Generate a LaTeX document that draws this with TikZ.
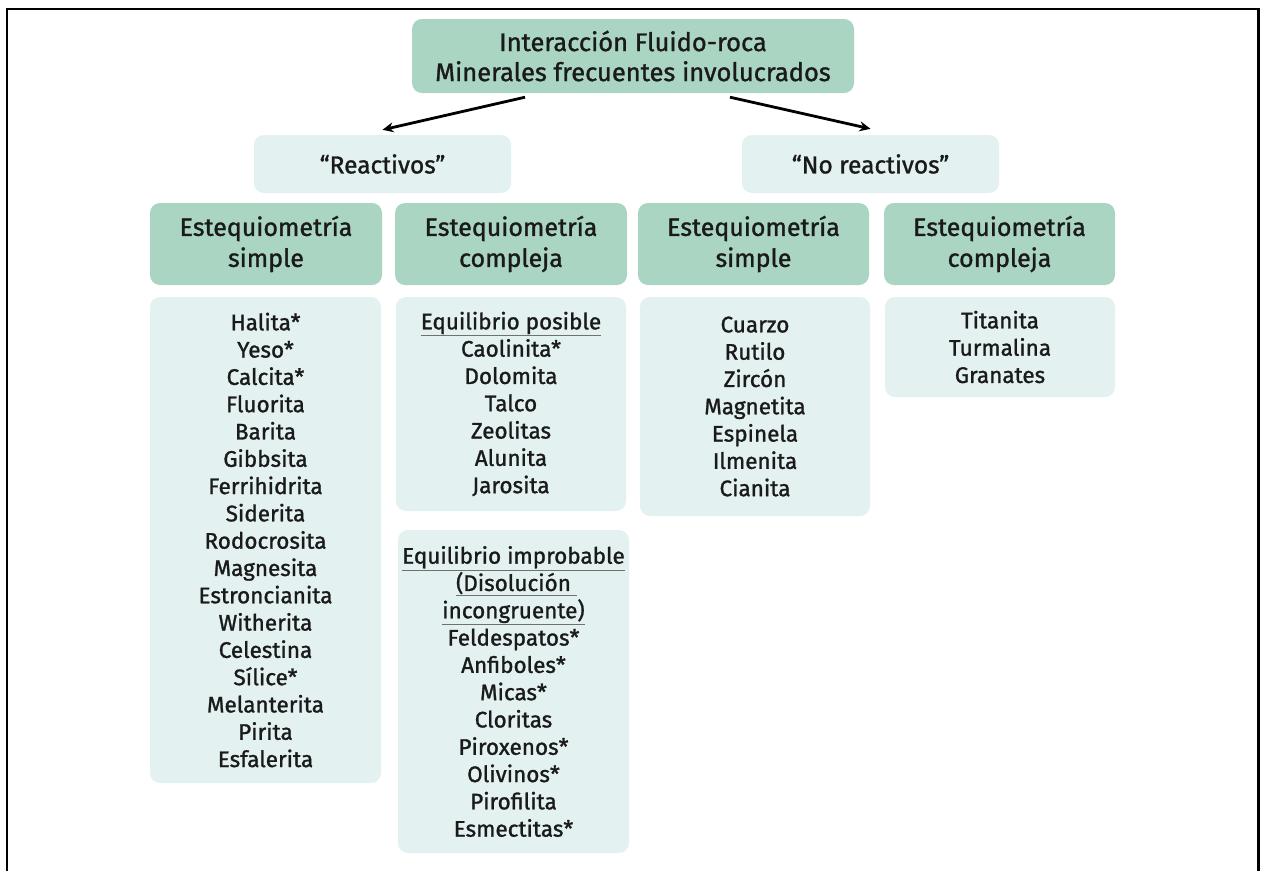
\documentclass[tikz,border=0pt]{standalone}
\usepackage{fontspec}
\setmainfont{Fira Sans}[FakeBold=1.2]
\usetikzlibrary{arrows.meta}

\definecolor{headgreen}{HTML}{A9D5C2}
\definecolor{lightbox}{HTML}{E3F1F1}
\definecolor{ink}{HTML}{1A1A1A}
\definecolor{ulgray}{HTML}{707070}

% underline in grey, keeping the text itself in ink
\newcommand{\grayul}[1]{\rlap{\color{ulgray}\underline{\phantom{#1}}}#1}

\tikzset{
  base/.style={rounded corners=10pt, inner sep=0pt, align=center, text=ink},
  topbox/.style={base, fill=headgreen, font=\fontsize{25.5}{30}\selectfont},
  catbox/.style={base, fill=lightbox, font=\fontsize{24.5}{30}\selectfont},
  headbox/.style={base, fill=headgreen, font=\fontsize{25}{31}\selectfont},
  listbox/.style={base, fill=lightbox, font=\fontsize{22.5}{27.3}\selectfont},
  arr/.style={line width=2.8pt, draw=black, -{Stealth[length=11pt,width=10pt]}},
  frame/.style={line width=2.5pt, draw=black}
}

\begin{document}
\begin{tikzpicture}[x=1pt,y=-1pt]
\useasboundingbox (0,0) rectangle (1261,871);
\draw[frame] (7,871) -- (7,9) -- (1258.5,9) -- (1258.5,871);

% title
\node[topbox, minimum width=442pt, minimum height=74pt] (top) at (633,56)
  {Interacción Fluido-roca\\Minerales frecuentes involucrados};

% the two families
\node[catbox, minimum width=257pt, minimum height=58pt] (reac) at (382.5,164) {“Reactivos”};
\node[catbox, minimum width=257pt, minimum height=58pt] (nore) at (870.5,164) {“No reactivos”};

\draw[arr] ([xshift=-108pt,yshift=-4pt]top.south) -- ([yshift=5pt]reac.north);
\draw[arr] ([xshift=97pt,yshift=-4pt]top.south) -- ([yshift=6pt]nore.north);

% stoichiometry headers
\node[headbox, minimum width=232pt, minimum height=82pt] (h1) at (266,244) {Estequiometría\\simple};
\node[headbox, minimum width=232pt, minimum height=82pt] (h2) at (511,244) {Estequiometría\\compleja};
\node[headbox, minimum width=231pt, minimum height=82pt] (h3) at (753.5,244) {Estequiometría\\simple};
\node[headbox, minimum width=231pt, minimum height=82pt] (h4) at (999.5,244) {Estequiometría\\compleja};

% mineral lists
\node[listbox, minimum width=231pt, minimum height=486pt] (l1) at (265.5,540)
  {Halita*\\Yeso*\\Calcita*\\Fluorita\\Barita\\Gibbsita\\Ferrihidrita\\Siderita\\Rodocrosita\\Magnesita\\Estroncianita\\Witherita\\Celestina\\Sílice*\\Melanterita\\Pirita\\Esfalerita};
\node[listbox, minimum width=230pt, minimum height=214pt] (l2a) at (511,404)
  {\grayul{Equilibrio posible}\\Caolinita*\\Dolomita\\Talco\\Zeolitas\\Alunita\\Jarosita};
\node[listbox, minimum width=231pt, minimum height=323pt] (l2b) at (513.5,691.5)
  {\grayul{Equilibrio improbable}\\\grayul{(Disolución\ }\\\grayul{incongruente)}\\Feldespatos*\\Anfiboles*\\Micas*\\Cloritas\\Piroxenos*\\Olivinos*\\Pirofilita\\Esmectitas*};
\node[listbox, minimum width=230pt, minimum height=219pt] (l3) at (755,406.5)
  {Cuarzo\\Rutilo\\Zircón\\Magnetita\\Espinela\\Ilmenita\\Cianita};
\node[listbox, minimum width=230pt, minimum height=100pt] (l4) at (1000,347)
  {Titanita\\Turmalina\\Granates};
\end{tikzpicture}
\end{document}
